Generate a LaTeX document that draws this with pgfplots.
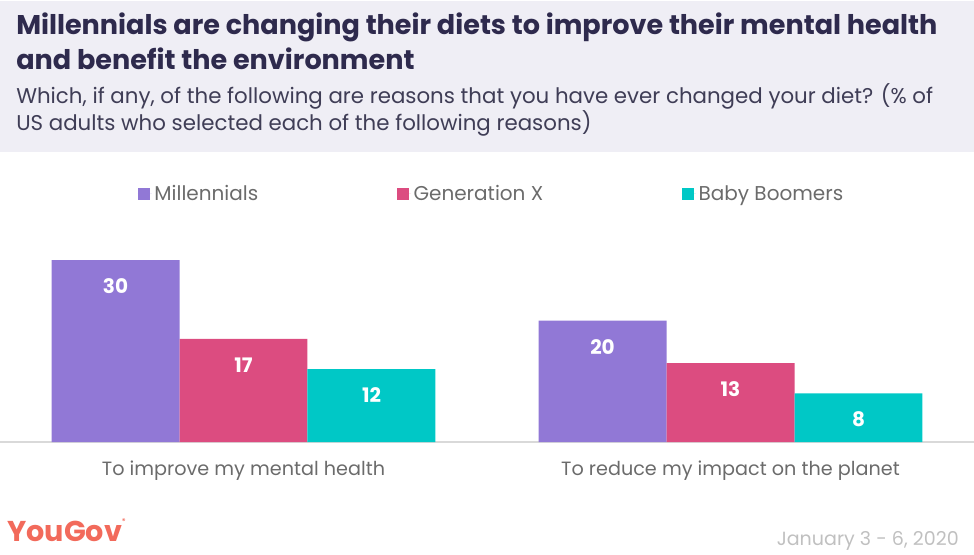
\documentclass[border=0pt]{standalone}
\usepackage{fontspec}
\setmainfont{Poppins}
\usepackage{pgfplots}
\pgfplotsset{compat=1.18}
\definecolor{hdr}{HTML}{EFEEF5}
\definecolor{ttl}{HTML}{2E2A4D}
\definecolor{sub}{HTML}{3F3D56}
\definecolor{millen}{HTML}{9178D6}
\definecolor{genx}{HTML}{DC4C80}
\definecolor{boomer}{HTML}{00C8C6}
\definecolor{catgray}{HTML}{6B6B6B}
\definecolor{yougov}{HTML}{F26A5B}
\definecolor{dategray}{HTML}{C0C0C0}

\begin{document}
\begin{tikzpicture}[x=0.75pt,y=0.75pt]
% page: 974 x 554 px, axis baseline at row 442
\path[use as bounding box] (0,-112) rectangle (974,442);
\fill[hdr] (0,290) rectangle (974,441);

\node[anchor=base west,inner sep=0,text=ttl,font=\fontsize{20.3}{24}\selectfont\bfseries] at (16,407) {Millennials are changing their diets to improve their mental health};
\node[anchor=base west,inner sep=0,text=ttl,font=\fontsize{20.3}{24}\selectfont\bfseries] at (16,372) {and benefit the environment};
\node[anchor=base west,inner sep=0,text=sub,font=\fontsize{16}{19}\selectfont] at (16,338) {Which, if any, of the following are reasons that you have ever changed your diet? (\% of};
\node[anchor=base west,inner sep=0,text=sub,font=\fontsize{16}{19}\selectfont] at (16,311) {US adults who selected each of the following reasons)};

\begin{axis}[
    at={(0,0)}, anchor=south west,
    scale only axis,
    width=730.5pt, height=182pt,
    xmin=-0.5, xmax=1.5,
    ymin=0, ymax=40,
    ybar=0pt,
    bar width=0.2628,
    axis x line*=bottom,
    hide y axis,
    x axis line style={draw=black!15, line width=1.5pt},
    xtick=data,
    xticklabels={To improve my mental health, To reduce my impact on the planet},
    major tick length=0pt,
    xticklabel style={text=catgray, font=\fontsize{14.4}{17}\selectfont, yshift=-10.5pt},
    /pgf/number format/assume math mode=true,
    nodes near coords,
    every node near coord/.append style={anchor=center, yshift=-19.5pt, text=white, font=\fontsize{15}{18}\selectfont\bfseries},
    legend columns=3,
    legend style={at={(0.505,1.023)}, anchor=center, draw=none, fill=none,
        font=\fontsize{15}{18}\selectfont, text=catgray,
        /tikz/every even column/.append style={column sep=102pt}},
    legend image code/.code={\fill[#1] (0pt,-4.5pt) rectangle (9pt,4.5pt);
        \path (0pt,0pt) -- (10.5pt,0pt);},
    clip=false,
]
\addplot[fill=millen, draw=none, bar shift=-0.2628] coordinates {(0,30) (1,20)};
\addplot[fill=genx, draw=none, bar shift=0] coordinates {(0,17) (1,13)};
\addplot[fill=boomer, draw=none, bar shift=0.2628] coordinates {(0,12) (1,8)};
\legend{Millennials, Generation X, Baby Boomers}
\end{axis}

\node[anchor=base west,inner sep=0,text=yougov,font=\fontsize{21.5}{24}\selectfont\bfseries] at (7,-99) {YouGov\raisebox{1.1ex}{\tiny\textregistered}};
\node[anchor=base east,inner sep=0,text=dategray,font=\fontsize{14.3}{17}\selectfont] at (959,-103) {January 3 - 6, 2020};
\end{tikzpicture}
\end{document}
